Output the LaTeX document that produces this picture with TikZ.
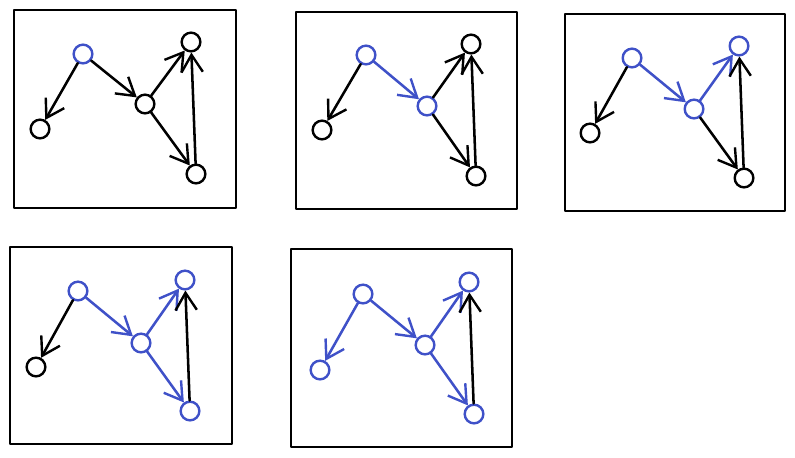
\documentclass[tikz,border=0pt]{standalone}
\usetikzlibrary{arrows.meta}
\definecolor{visit}{HTML}{3F51C8}
\begin{document}
\begin{tikzpicture}[x=0.75pt, y=-0.75pt, line width=1.5pt, line join=round, line cap=round,
    panel/.style={draw, line width=2pt},
    vert/.style={circle, draw, line width=1.8pt, minimum size=14pt, inner sep=0pt, fill=white},
    seen/.style={vert, draw=visit},
    edge/.style={-{Straight Barb[length=13pt, width=16pt, line width=1.8pt]}, line width=1.9pt},
    tree/.style={edge, draw=visit}]
    \useasboundingbox (0,0) rectangle (795,457);
    % panels
    \draw[panel] (14,10) rectangle (236,208);
    \draw[panel] (296,12) rectangle (517,209);
    \draw[panel] (565,14) rectangle (785,211);
    \draw[panel] (10,247) rectangle (232,444);
    \draw[panel] (291,249) rectangle (512,447);

    % step 1
    \node[seen] (a1) at (83,54) {};
    \node[vert] (b1) at (40,129) {};
    \node[vert] (c1) at (145,104) {};
    \node[vert] (d1) at (191,42) {};
    \node[vert] (e1) at (196,174) {};
    \draw[edge] (a1) -- (b1);
    \draw[edge] (a1) -- (c1);
    \draw[edge] (c1) -- (d1);
    \draw[edge] (c1) -- (e1);
    \draw[edge] (e1) -- (d1);

    % step 2
    \node[seen] (a2) at (366,55) {};
    \node[vert] (b2) at (322,130) {};
    \node[seen] (c2) at (427,106) {};
    \node[vert] (d2) at (471,44) {};
    \node[vert] (e2) at (476,176) {};
    \draw[edge] (a2) -- (b2);
    \draw[tree] (a2) -- (c2);
    \draw[edge] (c2) -- (d2);
    \draw[edge] (c2) -- (e2);
    \draw[edge] (e2) -- (d2);

    % step 3
    \node[seen] (a3) at (632,58) {};
    \node[vert] (b3) at (590,133) {};
    \node[seen] (c3) at (694,109) {};
    \node[seen] (d3) at (739,46) {};
    \node[vert] (e3) at (744,178) {};
    \draw[edge] (a3) -- (b3);
    \draw[tree] (a3) -- (c3);
    \draw[tree] (c3) -- (d3);
    \draw[edge] (c3) -- (e3);
    \draw[edge] (e3) -- (d3);

    % step 4
    \node[seen] (a4) at (78,291) {};
    \node[vert] (b4) at (36,367) {};
    \node[seen] (c4) at (141,343) {};
    \node[seen] (d4) at (185,280) {};
    \node[seen] (e4) at (190,411) {};
    \draw[edge] (a4) -- (b4);
    \draw[tree] (a4) -- (c4);
    \draw[tree] (c4) -- (d4);
    \draw[tree] (c4) -- (e4);
    \draw[edge] (e4) -- (d4);

    % step 5
    \node[seen] (a5) at (363,294) {};
    \node[seen] (b5) at (320,370) {};
    \node[seen] (c5) at (425,345) {};
    \node[seen] (d5) at (469,282) {};
    \node[seen] (e5) at (474,414) {};
    \draw[tree] (a5) -- (b5);
    \draw[tree] (a5) -- (c5);
    \draw[tree] (c5) -- (d5);
    \draw[tree] (c5) -- (e5);
    \draw[edge] (e5) -- (d5);
\end{tikzpicture}
\end{document}
